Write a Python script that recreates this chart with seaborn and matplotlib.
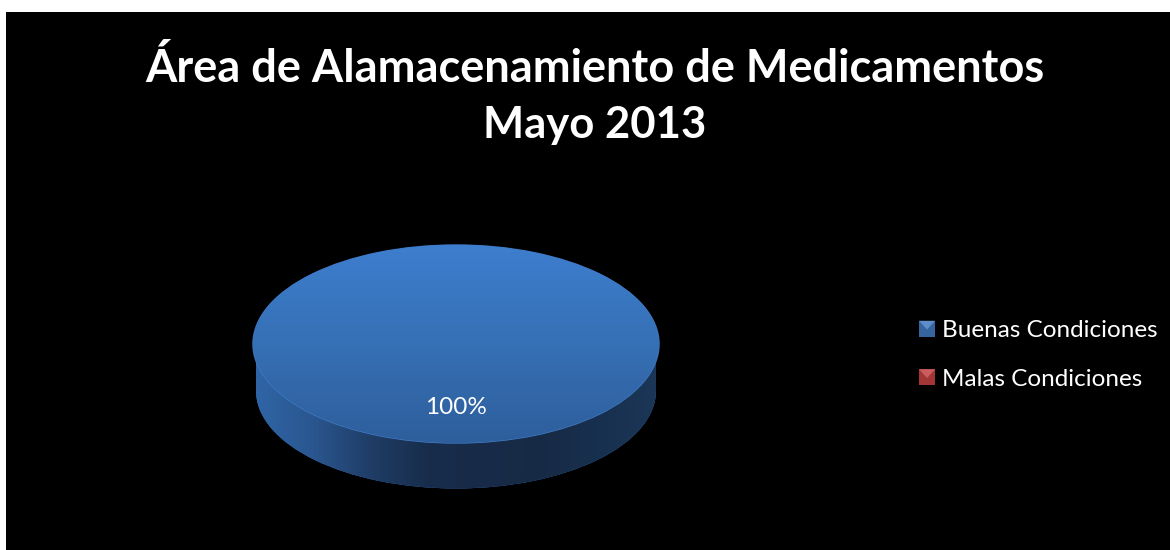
import numpy as np
import matplotlib
matplotlib.use("Agg")
import matplotlib.pyplot as plt
from matplotlib.colors import LinearSegmentedColormap
from matplotlib.legend_handler import HandlerBase
from matplotlib.patches import Polygon, Rectangle, Wedge
import seaborn as sns

title_lines = ["Área de Alamacenamiento de Medicamentos", "Mayo 2013"]
categories = ["Buenas Condiciones", "Malas Condiciones"]
values = [100, 0]
colors = ["#3A74BC", "#C0393B"]

sns.set_theme(style="dark", rc={"axes.facecolor": "black", "figure.facecolor": "white"})
plt.rcParams["font.family"] = ["Lato", "DejaVu Sans"]


class PyramidHandler(HandlerBase):
    # legend key: square with a lighter triangle on top, like the office bevel
    def create_artists(self, legend, orig_handle, xdescent, ydescent, width, height, fontsize, trans):
        color = orig_handle.get_facecolor()
        dark = sns.dark_palette(color, n_colors=6)[4]
        light = sns.light_palette(color, n_colors=6)[4]
        size = 11.5
        x0 = width - size
        y0 = (height - size) / 2
        square = Rectangle((x0, y0), size, size, facecolor=dark, edgecolor="none", transform=trans)
        tri = Polygon([(x0, y0 + size), (x0 + size, y0 + size), (x0 + size * 0.5, y0 + size * 0.45)],
                      facecolor=light, edgecolor="none", transform=trans)
        return [square, tri]


def pct_label(pct):
    return f"{pct:.0f}%" if pct > 0 else ""


fig = plt.figure(figsize=(11.7, 5.5), dpi=100)
ax = fig.add_axes([6 / 1170, 0, 1164 / 1170, 538 / 550])

wedges, texts, autotexts = ax.pie(
    values, colors=colors, startangle=90, autopct=pct_label, pctdistance=0.645,
    wedgeprops={"edgecolor": "#3F7BC6", "linewidth": 1.0, "zorder": 2},
    textprops={"color": "white", "fontsize": 17.5, "zorder": 5},
)
for t in texts:
    t.set_visible(False)

# rim of the disc: lower pie, same values, pushed down by the disc thickness
thick = 47 / 99
low_wedges, low_texts = ax.pie(
    values, colors=colors, startangle=90, radius=0.985, center=(0, -thick),
    wedgeprops={"edgecolor": "none", "zorder": 0.5},
)

side_cmap = LinearSegmentedColormap.from_list(
    "side", ["#2F65A6", "#2A568F", "#1F3D66", "#182D4C", "#172B48", "#172A45", "#18304F", "#1C3657"])
top_cmap = LinearSegmentedColormap.from_list("top", ["#3D7ECE", "#3670B5", "#2E5E9C"])
grad_x = np.linspace(0, 1, 256).reshape(1, -1)
grad_y = np.linspace(0, 1, 256).reshape(-1, 1)

side_low = ax.imshow(grad_x, cmap=side_cmap, aspect="auto", zorder=1,
                     extent=(-0.985, 0.985, -1 - thick, -thick))
side_low.set_clip_path(low_wedges[0])
ax.imshow(grad_x, cmap=side_cmap, aspect="auto", zorder=1, extent=(-0.985, 0.985, -thick, 0))
top_img = ax.imshow(grad_y, cmap=top_cmap, aspect="auto", zorder=3, extent=(-1, 1, -1, 1))
top_img.set_clip_path(wedges[0])

ax.set_aspect("auto")
ax.set_xlim((6 - 456) / 203, (1170 - 456) / 203)
ax.set_ylim(-206 / 99, 332 / 99)
ax.set_frame_on(True)
ax.set_facecolor("black")
for spine in ax.spines.values():
    spine.set_visible(False)

fig.text(595 / 1170, 1 - 68 / 550, title_lines[0], color="white", fontsize=32.5, fontweight="bold",
         ha="center", va="center")
fig.text(595 / 1170, 1 - 125 / 550, title_lines[1], color="white", fontsize=31.4, fontweight="bold",
         ha="center", va="center")

leg = ax.legend(wedges, categories, loc="center left", bbox_to_anchor=(919 / 1170, 1 - 355 / 550),
                bbox_transform=fig.transFigure, frameon=False, fontsize=17.5, labelcolor="white",
                labelspacing=1.13, handlelength=0.66, handletextpad=0.3, borderpad=0, borderaxespad=0,
                handler_map={Wedge: PyramidHandler()})

fig.savefig("out.png", dpi=100)
